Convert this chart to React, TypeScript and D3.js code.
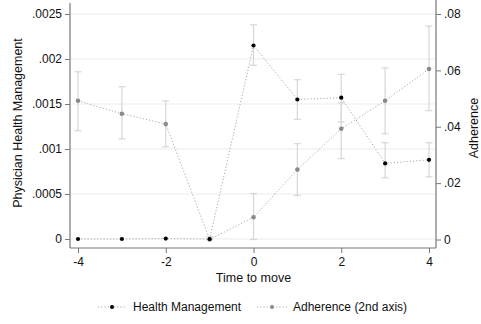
import { useEffect, useRef } from "react";
import { select, scaleLinear, axisLeft, axisRight, axisBottom, line } from "d3";

// time relative to move
const times = [-4, -3, -2, -1, 0, 1, 2, 3, 4];

// Health Management (left axis)
const hmValue = [0, 0, 0.000005, 0, 0.00215, 0.00155, 0.00157, 0.00084, 0.00088];
const hmLow = [0, 0, 0, 0, 0.00193, 0.00133, 0.0013, 0.00068, 0.00069];
const hmHigh = [0, 0, 0, 0, 0.00238, 0.00177, 0.00183, 0.00107, 0.00107];

// Adherence (right axis)
const adValue = [0.0492, 0.0446, 0.041, 0, 0.0079, 0.0248, 0.0393, 0.0492, 0.0605];
const adLow = [0.0386, 0.0357, 0.0329, 0, 0, 0.0156, 0.0287, 0.0375, 0.0457];
const adHigh = [0.0595, 0.0542, 0.0492, 0.001, 0.0163, 0.034, 0.0485, 0.0609, 0.0757];

const leftTicks = [0, 0.0005, 0.001, 0.0015, 0.002, 0.0025];
const leftLabels = ["0", ".0005", ".001", ".0015", ".002", ".0025"];
const rightTicks = [0, 0.02, 0.04, 0.06, 0.08];
const rightLabels = ["0", ".02", ".04", ".06", ".08"];
const xTicks = [-4, -2, 0, 2, 4];

const legendLabels = ["Health Management", "Adherence (2nd axis)"];
const legendColors = ["#000", "#8a8a8a"];

const W = 481, H = 324;

export default function App() {
  const ref = useRef<SVGSVGElement>(null);

  useEffect(() => {
    if (!ref.current) return;
    const svg = select(ref.current);
    svg.selectAll("*").remove();

    const left = 70, right = 436, top = 3, bottom = 248;
    const x = scaleLinear().domain([-4, 4]).range([78, 429]);
    const yL = scaleLinear().domain([0, 0.0025]).range([239, 14]);
    const yR = scaleLinear().domain([0, 0.08]).range([239.5, 14]);
    const font = "Liberation Sans, Arial, sans-serif";

    svg.append("rect").attr("width", W).attr("height", H).attr("fill", "#fff");

    // grid
    svg.append("g").selectAll("line").data(leftTicks).enter().append("line")
      .attr("x1", left).attr("x2", right)
      .attr("y1", d => yL(d)).attr("y2", d => yL(d))
      .attr("stroke", "#ebebeb").attr("stroke-width", 1.2);

    const styleAxis = (g: any) => {
      g.selectAll("path").attr("stroke", "#777").attr("stroke-width", 1.2);
      g.selectAll("line").attr("stroke", "#777");
      g.selectAll("text").attr("fill", "#111").attr("font-size", 12).attr("font-family", font);
    };

    const gl = svg.append("g").attr("transform", `translate(${left},0)`)
      .call(axisLeft(yL).tickValues(leftTicks).tickSize(5).tickSizeOuter(0)
        .tickFormat((d, i) => leftLabels[i]));
    gl.select("path").attr("d", `M0,${top}V${bottom}`);
    styleAxis(gl);

    const gr = svg.append("g").attr("transform", `translate(${right},0)`)
      .call(axisRight(yR).tickValues(rightTicks).tickSize(5).tickSizeOuter(0)
        .tickFormat((d, i) => rightLabels[i]));
    gr.select("path").attr("d", `M0,0V${bottom}`);
    styleAxis(gr);

    const gb = svg.append("g").attr("transform", `translate(0,${bottom})`)
      .call(axisBottom(x).tickValues(xTicks).tickSize(5).tickSizeOuter(0)
        .tickFormat(d => String(d)));
    gb.select("path").attr("d", `M${left},0H${right}`);
    styleAxis(gb);
    gb.selectAll("text").attr("dy", "0.85em");

    // axis titles
    svg.append("text").attr("transform", `translate(22,123) rotate(-90)`)
      .attr("text-anchor", "middle").attr("font-size", 12.5).attr("font-family", font)
      .attr("fill", "#111").text("Physician Health Management");
    svg.append("text").attr("transform", `translate(478,128) rotate(-90)`)
      .attr("text-anchor", "middle").attr("font-size", 12.5).attr("font-family", font)
      .attr("fill", "#111").text("Adherence");
    svg.append("text").attr("x", x(0)).attr("y", 282)
      .attr("text-anchor", "middle").attr("font-size", 12.5).attr("font-family", font)
      .attr("fill", "#111").text("Time to move");

    const drawSeries = (vals: number[], lo: number[], hi: number[], y: any, color: string, r: number) => {
      const g = svg.append("g");
      const idx = times.map((t, i) => i).filter(i => hi[i] - lo[i] > 0.0000001);
      const bars = g.selectAll("g.eb").data(idx).enter().append("g");
      bars.append("line")
        .attr("x1", i => x(times[i])).attr("x2", i => x(times[i]))
        .attr("y1", i => y(lo[i])).attr("y2", i => y(hi[i]))
        .attr("stroke", "#d6d6d6").attr("stroke-width", 1.2);
      bars.append("line")
        .attr("x1", i => x(times[i]) - 3.5).attr("x2", i => x(times[i]) + 3.5)
        .attr("y1", i => y(lo[i])).attr("y2", i => y(lo[i]))
        .attr("stroke", "#d6d6d6").attr("stroke-width", 1.2);
      bars.append("line")
        .attr("x1", i => x(times[i]) - 3.5).attr("x2", i => x(times[i]) + 3.5)
        .attr("y1", i => y(hi[i])).attr("y2", i => y(hi[i]))
        .attr("stroke", "#d6d6d6").attr("stroke-width", 1.2);
      const ln = line<number>().x((d, i) => x(times[i])).y(d => y(d));
      g.append("path").attr("d", ln(vals) as string).attr("fill", "none")
        .attr("stroke", "#aaa").attr("stroke-width", 1).attr("stroke-dasharray", "1.2 2");
      g.selectAll("circle").data(vals).enter().append("circle")
        .attr("cx", (d, i) => x(times[i])).attr("cy", d => y(d)).attr("r", r)
        .attr("fill", color);
    };

    drawSeries(adValue, adLow, adHigh, yR, "#8a8a8a", 2.3);
    drawSeries(hmValue, hmLow, hmHigh, yL, "#000", 2.1);

    // legend
    const lineX = [[98, 126], [257, 287]];
    const dotX = [112, 272];
    const textX = [133, 293];
    const lg = svg.append("g");
    legendLabels.forEach((label, i) => {
      lg.append("line")
        .attr("x1", lineX[i][0]).attr("x2", lineX[i][1])
        .attr("y1", 307).attr("y2", 307)
        .attr("stroke", "#aaa").attr("stroke-width", 1).attr("stroke-dasharray", "1.2 2");
      lg.append("circle")
        .attr("cx", dotX[i]).attr("cy", 307).attr("r", 2)
        .attr("fill", legendColors[i]);
      lg.append("text")
        .attr("x", textX[i]).attr("y", 311)
        .attr("font-size", 12).attr("font-family", font).attr("fill", "#111")
        .text(label);
    });
  }, []);

  return (
    <svg ref={ref} width={W} height={H}
      style={{ position: "absolute", left: 0, top: 0, display: "block" }} />
  );
}
